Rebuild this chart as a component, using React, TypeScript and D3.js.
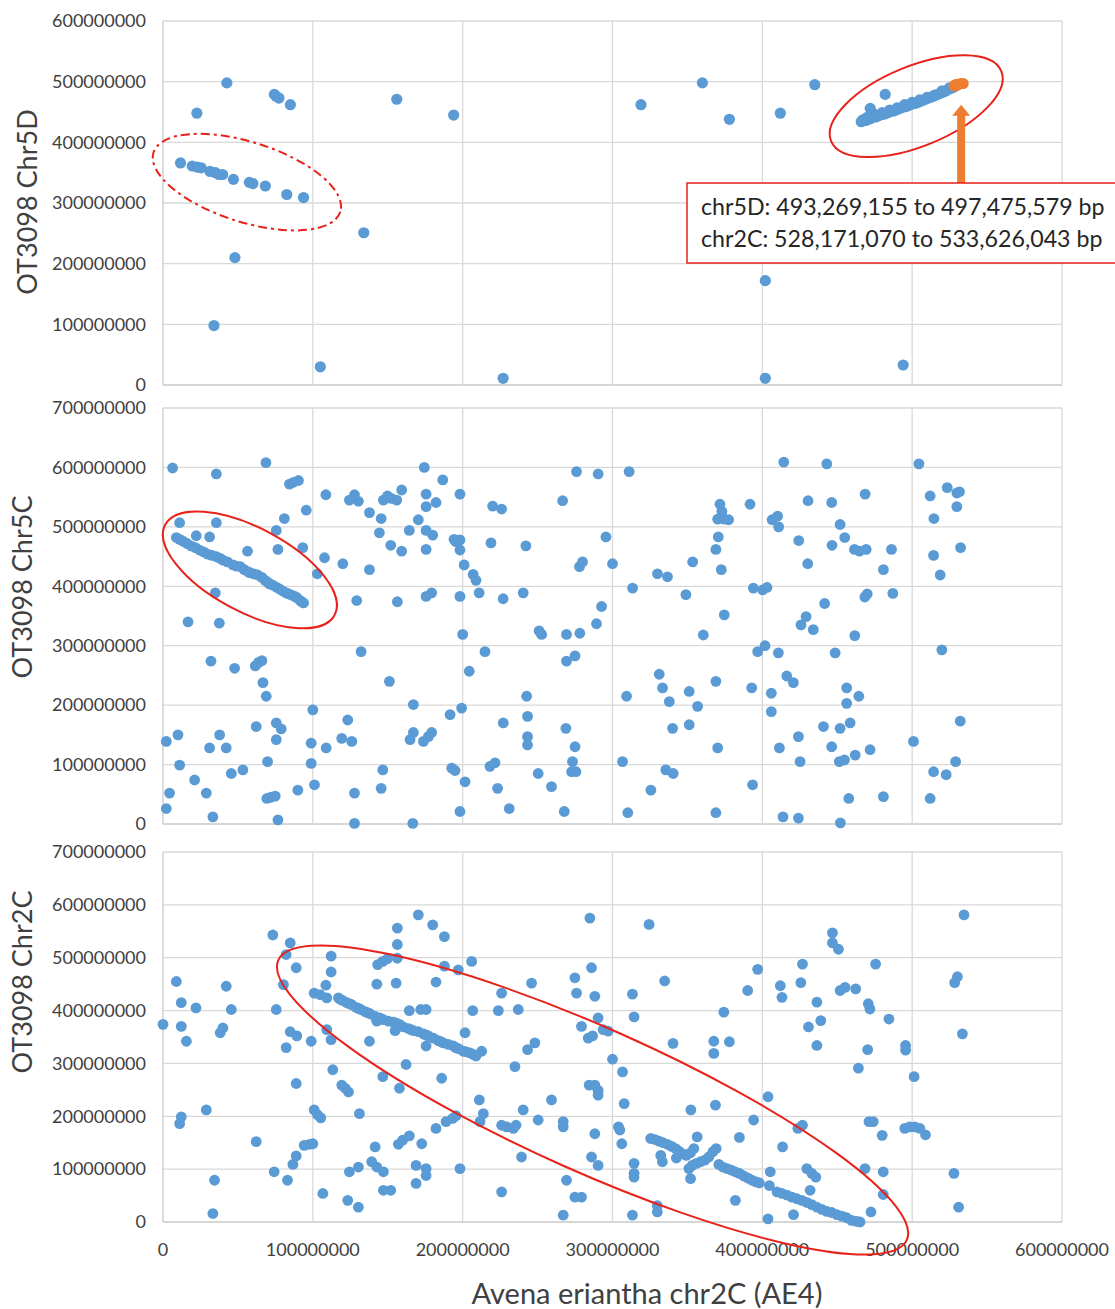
import React from 'react';
import * as d3 from 'd3';

type P = [number, number];

// values in megabases (x: Avena eriantha chr2C, y: OT3098 chromosome)
const xTicks = [0, 100, 200, 300, 400, 500, 600];
const chr5DTicks = [0, 100, 200, 300, 400, 500, 600];
const chr5CTicks = [0, 100, 200, 300, 400, 500, 600, 700];
const chr2CTicks = [0, 100, 200, 300, 400, 500, 600, 700];

const chr5DPoints: P[] = [
  [11.7, 366], [19.5, 361], [23, 359], [25.5, 358], [31.4, 352], [35, 350], [37.4, 347], [39.8, 347],
  [47, 339], [57.6, 334], [60, 332], [68.3, 328], [82.6, 314], [93.8, 309],
  [22.6, 448], [42.6, 498], [74.3, 479], [75.5, 476], [77.4, 473], [85, 462], [156, 471], [194, 445],
  [134, 251], [48, 210], [34, 98], [105, 30], [227, 11],
  [319, 462], [360, 498], [378, 438], [412, 448], [435, 495], [402, 172], [402, 11], [494, 33],
  [482, 479], [472, 456],
  [466, 434], [467, 437], [469, 436], [471, 438], [473, 440], [474, 443], [476, 442], [478, 444],
  [480, 446], [482, 447], [484, 449], [486, 451], [488, 452], [490, 454], [492, 456], [494, 458],
  [496, 459], [498, 461], [500, 463], [502, 464], [504, 466], [506, 468], [508, 470], [510, 472],
  [512, 474], [514, 476], [516, 478], [518, 480], [520, 482], [522, 484], [524, 487], [526, 489],
  [528, 491], [470, 441], [475, 446], [480, 449], [485, 453], [490, 457], [495, 462], [500, 466],
  [505, 470], [510, 474], [515, 478], [520, 485], [525, 490],
];

const chr5DHighlight: P[] = [
  [528, 493], [529, 495], [530, 494], [531, 496], [533, 497], [534, 497],
];

const chr5CPoints: P[] = [
  [6.4, 599], [35.6, 589], [68.7, 608], [84.4, 572], [87.1, 575], [90.4, 578], [108.7, 554], [95.6, 528],
  [81, 514], [75.6, 494], [11.1, 507], [35.6, 507], [22.2, 485], [31.1, 483],
  [8.9, 482], [11.1, 479], [13.3, 476], [16, 472], [18.7, 468], [21.6, 465], [24.4, 461], [27.1, 458],
  [29.8, 454], [32.7, 452], [35.6, 450], [38.2, 447], [40, 444], [43, 441], [46.7, 436], [49, 434],
  [51.6, 433], [54.2, 428], [56.9, 424], [58, 423], [60.4, 421], [63.1, 419], [66, 415], [68.2, 410],
  [70.4, 406], [71, 404], [73.3, 402], [76, 398], [78, 395], [80, 392], [82.2, 389], [84, 387],
  [86, 385], [88, 383], [89.3, 381], [91.6, 376], [92.5, 374], [93.8, 372],
  [56.4, 459], [76.7, 462], [93.3, 465], [34.9, 389], [16.7, 340], [37.6, 338],
  [103, 421], [107.8, 448], [120, 438], [137.8, 428], [129.3, 376], [156.4, 374],
  [124.4, 545], [127.8, 554], [130.4, 543], [137.8, 524], [145.6, 514], [144.4, 490], [152, 469], [159.3, 459],
  [147.1, 545], [149.8, 552], [152.4, 548], [156, 545], [159.3, 562], [174.4, 600], [186.7, 579],
  [175.6, 555], [175.6, 534], [182.2, 541], [170.4, 512], [164.4, 494], [175.6, 494], [180, 486],
  [175.6, 462], [175.6, 383], [179.3, 389],
  [198.2, 555], [194.2, 479], [198.2, 478], [195.5, 475], [198.2, 461], [201, 436], [207, 420], [208.9, 410],
  [211, 389], [198.2, 383], [200, 319],
  [220, 535], [226, 530], [218.9, 473], [242.2, 468], [227, 379], [240.4, 389], [251, 325], [252.7, 319],
  [266.7, 544], [276, 593], [290.4, 589], [280, 441], [278, 433], [295.6, 483], [292.7, 366], [289.3, 337],
  [269.3, 319], [278.2, 321],
  [32, 274], [47.8, 262], [61.6, 266], [63.8, 272], [66, 275], [66.7, 238], [68.9, 215], [132.2, 290],
  [151.1, 240], [100, 192], [123.3, 175], [119.3, 144], [126, 139], [108.9, 128], [98.9, 136], [98.9, 102],
  [101.1, 66], [90, 57], [75.6, 170], [78.9, 160], [75.6, 142], [62.2, 164], [37.8, 150], [31.1, 128],
  [42.2, 128], [10, 150], [2.2, 139], [11.1, 99], [21.1, 74], [4.4, 52], [2.2, 26], [28.9, 52],
  [33.3, 12], [45.6, 85], [53.3, 91], [69.8, 105], [69.3, 43], [72, 45], [74.9, 47], [76.7, 7],
  [127.8, 52], [127.8, 1], [146.7, 91], [145.6, 60], [167.1, 201], [164.9, 142], [167.1, 154], [173.8, 139],
  [177.1, 147], [179.3, 154], [166.7, 1], [191.6, 184], [199.3, 195], [204.4, 257], [214.9, 290],
  [269.3, 274], [275, 283], [242.7, 215], [243.3, 181], [243.3, 147], [243.3, 133], [227.1, 170],
  [268.9, 161], [275, 130], [273.3, 105], [272.7, 88], [275.6, 88], [250.4, 85], [259.3, 63],
  [218.2, 97], [221.6, 103], [223.3, 60], [231.1, 26], [267.8, 21], [192.7, 94], [194.9, 90],
  [201.6, 71], [198.2, 21],
  [311.1, 593], [300, 438], [313.4, 397], [330, 421], [336.7, 416], [353.5, 441], [349, 386], [360.6, 318],
  [374.6, 352], [371.7, 538], [373, 526], [370.2, 513], [374.6, 513], [377.5, 512], [391.8, 538],
  [370.6, 483], [369, 462], [372.6, 428], [394, 397], [400.2, 394], [403.1, 398], [406.5, 512],
  [410.2, 518], [410.9, 500], [414.3, 609], [443, 606], [430.5, 544], [446.3, 541], [451.9, 504],
  [455, 482], [424.3, 477], [446.5, 469], [430.3, 438], [461.5, 462], [464.8, 459], [469.3, 462],
  [468.6, 555], [486.2, 462], [480.8, 428], [441.6, 371], [429.2, 349], [425.8, 335], [434, 327],
  [461.7, 317], [468.4, 382], [470, 387], [487.1, 388], [504.5, 606], [512, 552], [523.4, 566],
  [529.8, 557], [531.6, 559], [529.8, 534], [514.5, 514], [514.3, 452], [532.3, 465], [518.7, 419],
  [396.9, 290], [401.8, 300], [410.7, 288], [448.6, 288], [519.8, 293], [331.2, 252], [333.4, 229],
  [337.9, 206], [351.2, 223], [369, 240], [356.8, 198], [309.4, 215], [340.1, 161], [351.2, 167],
  [392.9, 229], [406, 220], [406, 189], [416.3, 249], [420.7, 238], [456.3, 229], [456.3, 203],
  [464.4, 215], [440.8, 164], [451.9, 161], [458.6, 170], [424.1, 147], [446.3, 130], [411.4, 128],
  [370.2, 128], [425.2, 105], [451.4, 105], [454.8, 108], [462, 116], [471.9, 125], [500.9, 139],
  [532.1, 173], [306.7, 105], [335.6, 91], [340.5, 85], [325.6, 57], [393.5, 66], [310.2, 19],
  [369, 19], [413.8, 12], [424.1, 10], [452.1, 2], [457.7, 43], [480.8, 46], [514.3, 88], [522.7, 83],
  [529, 105], [512, 43],
];

const chr2CPoints: P[] = [
  [0, 374], [8.9, 455], [12.2, 415], [22, 405], [12.2, 370], [15.6, 342], [42.2, 446], [45.6, 402],
  [40, 367], [38.2, 358], [73.3, 543], [84.9, 528], [82.2, 506], [80.4, 449], [88.9, 481], [75.6, 402],
  [84.9, 360], [89.3, 352], [82.2, 330], [98.9, 342], [100.9, 433], [104.9, 430], [109.3, 424],
  [108.7, 448], [112.2, 503], [112.2, 473], [109.3, 364], [112.2, 345],
  [117.1, 424], [118.5, 421], [120, 419], [122.7, 415], [124.3, 413], [126, 411], [128.9, 406],
  [130.5, 404], [132, 402], [134.9, 398], [136.5, 396], [138.2, 394], [141.6, 389], [142.7, 380],
  [144.8, 386], [147.1, 383], [150.4, 380], [153.8, 378], [155.8, 376], [157.8, 374], [160.4, 369],
  [163.8, 366], [165.5, 364], [167.1, 362], [170.4, 360], [173.8, 356], [175.4, 354], [177.1, 352],
  [180.4, 348], [183.8, 343], [185.5, 341], [187.1, 339], [190.4, 336], [193.8, 333], [195.4, 330],
  [197.1, 328], [200.4, 323], [202.5, 322], [204.9, 320], [207, 317], [208.9, 314], [212.7, 323],
  [154.9, 362], [137.8, 342], [162.2, 298], [175.6, 333], [201.6, 358], [142.7, 450], [155.6, 452],
  [182.2, 454], [143.3, 487], [146.7, 493], [149.8, 498], [156.4, 499], [156.4, 525], [156.4, 556],
  [170.4, 581], [180, 562], [187.8, 540], [187.8, 484], [197.1, 477], [206, 493], [164.4, 400],
  [172, 402], [175.6, 402], [206.7, 400], [223.8, 400], [226, 433], [237.1, 402], [246, 452],
  [243.3, 326], [248.2, 339], [274.9, 462], [276, 433], [284.9, 575], [286, 481], [288.2, 427],
  [279.3, 370], [283.8, 348], [286.7, 352], [290.4, 386], [293.8, 364], [297.1, 361],
  [12.2, 199], [11.1, 186], [28.9, 212], [34.4, 79], [33.3, 16], [62.2, 152], [88.9, 262], [100.9, 212],
  [103.1, 203], [105.3, 197], [94.2, 145], [97.8, 147], [100, 148], [88.9, 125], [86.7, 109], [74.2, 95],
  [83.1, 79], [106.7, 54], [113.3, 288], [119.3, 259], [121.6, 253], [123.8, 246], [131.1, 205],
  [146.7, 275], [157.8, 253], [186, 272], [141.6, 142], [157.1, 147], [160, 155], [164.4, 163],
  [172.7, 148], [182.2, 177], [188.9, 190], [193.3, 196], [195.6, 201], [139.3, 114], [142.7, 104],
  [147.1, 95], [124.4, 95], [130.4, 104], [123.3, 41], [130.4, 28], [147.1, 60], [152, 60], [168.9, 73],
  [168.9, 107], [175.6, 101], [175.6, 88], [198.2, 101], [211.1, 231], [213.8, 205], [211.6, 190],
  [226, 183], [229.3, 180], [233.8, 177], [235.6, 183], [234.9, 294], [240.4, 212], [250.4, 193],
  [259.3, 231], [239.3, 123], [226, 57], [267.1, 190], [267.1, 180], [284.4, 259], [288.2, 259],
  [290.4, 249], [290.4, 240], [288.2, 167], [286, 123], [290.4, 107], [269.3, 79], [274.9, 47],
  [279.3, 47], [267.1, 13],
  [324.4, 563], [334.8, 456], [313.3, 431], [314.4, 388], [300, 308], [340.4, 338], [367.6, 342],
  [367.6, 319], [378, 341], [374.3, 397], [390.2, 438], [396.9, 478], [412, 447], [413.1, 425],
  [425.7, 453], [426.8, 488], [436.4, 416], [439, 381], [430.8, 369], [436.4, 334], [446.8, 547],
  [446.8, 528], [450.8, 516], [451.9, 438], [455.2, 444], [462.3, 441], [475.6, 488], [470.7, 413],
  [471.8, 403], [484.5, 384], [470.3, 326], [495.6, 334], [495.6, 325], [464.1, 291], [534.6, 581],
  [530.2, 464], [528.4, 453], [533.5, 356],
  [306.7, 284], [307.8, 224], [304, 180], [304.9, 174], [306.2, 148], [314.4, 111], [314.4, 92],
  [314.4, 85], [313.3, 13], [329.9, 31], [329.9, 19],
  [325.5, 158], [328.4, 156], [331, 153], [333.7, 150], [336.6, 147], [339.5, 143], [342.1, 139],
  [344.3, 134], [347, 129], [349.2, 126], [352.1, 131], [354.3, 139], [342.6, 121], [332.2, 126],
  [333.3, 114], [356.5, 161],
  [351, 101], [353.2, 107], [355.9, 111], [358.8, 114], [361.6, 117], [364.3, 123], [367, 133],
  [369.2, 139], [352.1, 82],
  [371, 109], [373.6, 104], [376.5, 101], [379.4, 98], [382, 95], [384.7, 92], [387.6, 87], [390.5, 83],
  [393.1, 79], [395.8, 76], [398, 74],
  [382, 41], [384.7, 160], [394.2, 193], [368.7, 221], [352.3, 212], [403.8, 237], [405.3, 95],
  [404.7, 69], [403.8, 6], [413.5, 142], [423.7, 177], [426.8, 183], [429.7, 101], [433, 92],
  [435.7, 85], [431.9, 60], [420.8, 14],
  [409.8, 57], [413.1, 54], [416.4, 51], [419.7, 47], [423.1, 44], [426.4, 41], [429.7, 37], [433, 33],
  [436.4, 28], [439.7, 24], [443, 20], [446.3, 18], [449.7, 14], [453, 11], [456.3, 8], [459.6, 3],
  [463, 1], [465.2, 0],
  [472.5, 19], [480.7, 52], [468.5, 101], [480.7, 95], [480, 164], [471.2, 190], [474, 190],
  [501.3, 275], [495.1, 177], [498.4, 180], [501.8, 180], [505.1, 177], [508.9, 165], [527.9, 92],
  [531, 28],
];

const yTitles = ['OT3098 Chr5D', 'OT3098 Chr5C', 'OT3098 Chr2C'];
const xTitle = 'Avena eriantha chr2C (AE4)';
const calloutLines = [
  'chr5D: 493,269,155 to 497,475,579 bp',
  'chr2C: 528,171,070 to 533,626,043 bp',
];

const BLUE = '#5B9BD5';
const ORANGE = '#ED7D31';
const RED = '#E8211B';
const GRID = '#d9d9d9';
const TICK = '#404040';
const TITLE = '#404040';
const FONT = "Lato, 'Open Sans', 'DejaVu Sans', sans-serif";

const fmt = (v: number) => String(Math.round(v * 1e6));

export default function App() {
  const x = d3.scaleLinear().domain([0, 600]).range([163, 1062]);

  const panels = [
    { title: yTitles[0], pts: chr5DPoints, ticks: chr5DTicks, y: d3.scaleLinear().domain([0, 600]).range([385, 21]), tx: 28, ty: 202, r: 5.6 },
    { title: yTitles[1], pts: chr5CPoints, ticks: chr5CTicks, y: d3.scaleLinear().domain([0, 700]).range([824, 408]), tx: 23, ty: 587, r: 5.4 },
    { title: yTitles[2], pts: chr2CPoints, ticks: chr2CTicks, y: d3.scaleLinear().domain([0, 700]).range([1222, 852]), tx: 23, ty: 982, r: 5.4 },
  ];

  const yTop = panels[0].y;
  const yMid = panels[1].y;
  const yBot = panels[2].y;

  // annotation ellipses: center in data units, radii/angle in px
  const ellipses = [
    { cx: x(56), cy: yTop(334.4), rx: 98, ry: 40, a: 17.6, dash: '9,4,3,4' },
    { cx: x(502.7), cy: yTop(459.6), rx: 92, ry: 40, a: -22.3, dash: undefined },
    { cx: x(58), cy: yMid(427.6), rx: 96, ry: 42, a: 28, dash: undefined },
    { cx: x(286.7), cy: yBot(230.8), rx: 344, ry: 72, a: 24, dash: undefined },
  ];

  const arrowX = x(532.7);
  const arrowTip = yTop(462);
  const boxX = 687;
  const boxY = 183;

  return (
    <div style={{ position: 'absolute', left: 0, top: 0, width: 1115, height: 1309, overflow: 'hidden', background: '#fff' }}>
      <svg width={1115} height={1309} style={{ display: 'block' }} fontFamily={FONT}>
        <rect width={1115} height={1309} fill="#fff" />
        {panels.map((p, i) => {
          const [y0, y1] = p.y.range();
          return (
            <g key={i}>
              {p.ticks.map((t) => (
                <line key={'h' + t} x1={x(0)} x2={x(600)} y1={p.y(t)} y2={p.y(t)} stroke={t === 0 ? '#c9c9c9' : GRID} strokeWidth={1.3} />
              ))}
              {xTicks.map((t) => (
                <line key={'v' + t} x1={x(t)} x2={x(t)} y1={y0} y2={y1} stroke={t === 0 ? '#c9c9c9' : GRID} strokeWidth={1.3} />
              ))}
              {p.ticks.map((t) => (
                <text key={'l' + t} x={146} y={p.y(t)} dy="0.35em" textAnchor="end" fontSize={18} fill={TICK}>
                  {fmt(t)}
                </text>
              ))}
              <text
                transform={`translate(${p.tx},${p.ty}) rotate(-90)`}
                textAnchor="middle"
                dy="0.35em"
                fontSize={27}
                fill={TITLE}
              >
                {p.title}
              </text>
              {p.pts.map((d, j) => (
                <circle key={j} cx={x(d[0])} cy={p.y(d[1])} r={p.r} fill={BLUE} />
              ))}
            </g>
          );
        })}

        {chr5DHighlight.map((d, j) => (
          <circle key={'o' + j} cx={x(d[0])} cy={yTop(d[1])} r={5.6} fill={ORANGE} />
        ))}

        {xTicks.map((t) => (
          <text key={'xt' + t} x={x(t)} y={1250} dy="0.35em" textAnchor="middle" fontSize={18} fill={TICK}>
            {fmt(t)}
          </text>
        ))}
        <text x={647} y={1304} textAnchor="middle" fontSize={29} fill={TITLE}>
          {xTitle}
        </text>

        {ellipses.map((e, i) => (
          <ellipse
            key={'e' + i}
            cx={0}
            cy={0}
            rx={e.rx}
            ry={e.ry}
            transform={`translate(${e.cx},${e.cy}) rotate(${e.a})`}
            fill="none"
            stroke={RED}
            strokeWidth={2}
            strokeDasharray={e.dash}
          />
        ))}

        <rect x={arrowX - 4} y={arrowTip + 10} width={8} height={boxY - arrowTip - 10} fill={ORANGE} />
        <path d={`M${arrowX - 9},${arrowTip + 11} L${arrowX},${arrowTip} L${arrowX + 9},${arrowTip + 11} Z`} fill={ORANGE} />

        <rect x={boxX} y={boxY} width={500} height={80} fill="#fff" stroke={RED} strokeWidth={1.5} />
        {calloutLines.map((s, i) => (
          <text key={'c' + i} x={boxX + 14} y={boxY + 32 + i * 32} fontSize={23.2} fill="#262626">
            {s}
          </text>
        ))}
      </svg>
    </div>
  );
}
